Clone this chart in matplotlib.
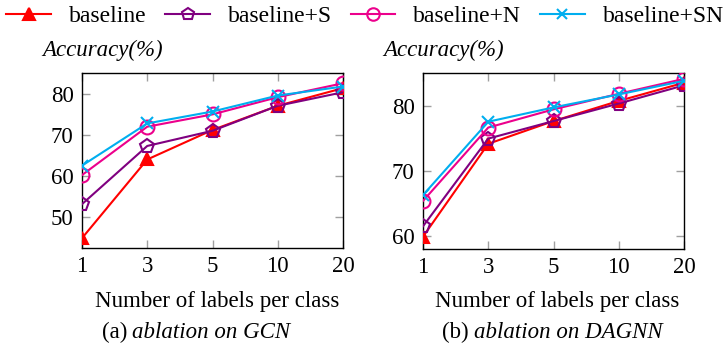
import matplotlib
matplotlib.use("Agg")
import matplotlib.pyplot as plt
from matplotlib.lines import Line2D

plt.rcParams['font.family'] = ['Liberation Serif', 'DejaVu Serif']

x_labels = ["1", "3", "5", "10", "20"]
series_names = ["baseline", "baseline+S", "baseline+N", "baseline+SN"]

gcn_baseline = [44.8, 64.0, 71.2, 77.1, 81.4]
gcn_s = [53.1, 67.3, 71.0, 77.1, 80.4]
gcn_n = [60.2, 72.0, 75.0, 79.2, 82.6]
gcn_sn = [62.5, 72.8, 75.7, 79.6, 81.8]

dagnn_baseline = [59.9, 74.2, 77.7, 80.8, 83.6]
dagnn_s = [61.5, 75.0, 77.7, 80.4, 83.2]
dagnn_n = [65.4, 76.7, 79.5, 81.9, 84.2]
dagnn_sn = [66.3, 77.6, 79.8, 81.8, 83.9]

gcn_yticks = [50, 60, 70, 80]
dagnn_yticks = [60, 70, 80]

colors = ["#ff0000", "#800080", "#ec008c", "#00aeef"]
markers = ["^", "p", "o", "x"]
mfc = ["#ff0000", "none", "none", "#00aeef"]
msz = [9, 10, 10, 8]

FS = 16.5
LFS = 17
W, H = 727, 343
fig = plt.figure(figsize=(W / 100, H / 100), dpi=100)

def px_axes(l, r, t, b):
    return fig.add_axes([l / W, 1 - b / H, (r - l) / W, (b - t) / H])

ax1 = px_axes(82, 343, 73, 248)
ax2 = px_axes(423, 684, 73, 249)

def draw(ax, data, ylim, yticks):
    xs = list(range(len(x_labels)))
    for i, ys in enumerate(data):
        ax.plot(xs, ys, color=colors[i], marker=markers[i], mfc=mfc[i],
                mec=colors[i], ms=msz[i], mew=1.5, lw=1.5, zorder=3)
    ax.set_xlim(0, len(x_labels) - 1)
    ax.set_ylim(*ylim)
    ax.set_xticks(xs)
    ax.set_xticklabels(x_labels, fontsize=FS)
    ax.set_yticks(yticks)
    ax.set_yticklabels([str(v) for v in yticks], fontsize=FS)
    ax.tick_params(direction='in', length=6, width=1, color='#a0a0a0',
                   top=True, right=True, pad=6)
    for s in ax.spines.values():
        s.set_linewidth(1.0)
        s.set_color('black')

draw(ax1, [gcn_baseline, gcn_s, gcn_n, gcn_sn], (42.4, 85.1), gcn_yticks)
draw(ax2, [dagnn_baseline, dagnn_s, dagnn_n, dagnn_sn], (58.0, 85.1), dagnn_yticks)

# y-axis titles
fig.text(42 / W, 1 - 50 / H, "Accuracy(%)", style='italic', fontsize=FS,
         ha='left', va='center')
fig.text(383 / W, 1 - 50 / H, "Accuracy(%)", style='italic', fontsize=FS,
         ha='left', va='center')

# x labels
fig.text(217 / W, 1 - 302 / H, "Number of labels per class", fontsize=FS,
         ha='center', va='center')
fig.text(557 / W, 1 - 302 / H, "Number of labels per class", fontsize=FS,
         ha='center', va='center')

# captions
for xpx, tag, body in [(102, "(a)", "ablation on GCN"),
                       (442, "(b)", "ablation on DAGNN")]:
    t = fig.text(xpx / W, 1 - 338 / H, tag, fontsize=FS, ha='left',
                 va='baseline')
    fig.draw_without_rendering()
    bb = t.get_window_extent()
    fig.text((bb.x1 + 5) / W, 1 - 338 / H, body, fontsize=FS,
             style='italic', ha='left', va='baseline')

handles = [Line2D([], [], color=colors[i], marker=markers[i], mfc=mfc[i],
                  mec=colors[i], ms=msz[i] - 1, mew=1.5, lw=1.5)
           for i in range(4)]
fig.legend(handles, series_names, loc='center left',
           bbox_to_anchor=(4 / W, 1 - 16 / H), ncol=4, frameon=False,
           fontsize=LFS, handlelength=1.9, handletextpad=0.76,
           columnspacing=0.78, borderaxespad=0, borderpad=0.1)

fig.savefig("out.png", dpi=100)
